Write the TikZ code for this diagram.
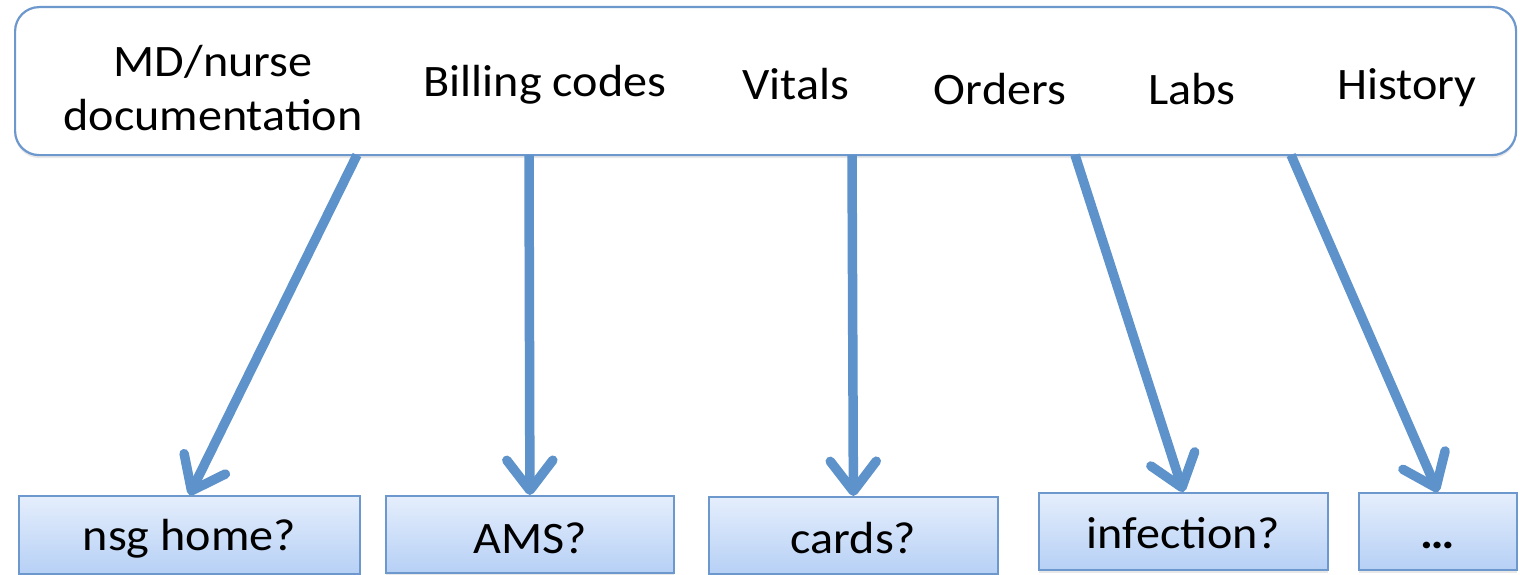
\documentclass[tikz,border=0pt]{standalone}
\usepackage{fontspec}
\setmainfont{Carlito}[FakeStretch=1.07]
\usetikzlibrary{arrows.meta,shadows}
\definecolor{arrowblue}{RGB}{94,146,202}
\definecolor{edgeblue}{RGB}{108,152,206}
\definecolor{boxtop}{RGB}{229,238,252}
\definecolor{boxbot}{RGB}{182,208,245}
\begin{document}
\begin{tikzpicture}[x=1pt,y=-1pt,
  topbox/.style={draw=edgeblue, line width=2.2pt, rounded corners=24pt, fill=white,
    drop shadow={shadow xshift=0pt, shadow yshift=-3pt, opacity=0.18}},
  leaf/.style={draw=edgeblue, line width=1.8pt, top color=boxtop, bottom color=boxbot,
    inner sep=0pt, anchor=north west,
    drop shadow={shadow xshift=0pt, shadow yshift=-3pt, opacity=0.18}},
  lbl/.style={font=\fontsize{45}{54}\selectfont, inner sep=0pt, anchor=base},
  arr/.style={draw=arrowblue, line width=9.5pt, line cap=butt,
    -{Straight Barb[round,length=30pt,width=46pt]}}]
\useasboundingbox (0,0) rectangle (1520,575);

% top container
\node[topbox, minimum width=1501pt, minimum height=148pt, anchor=north west] (top) at (14,6) {};
\node[lbl] (md1) at (213,77) {MD/nurse};
\node[lbl] (md2) at (213,131) {documentation};
\node[lbl] (bill) at (545,97) {Billing codes};
\node[lbl] (vit) at (796,100) {Vitals};
\node[lbl] (ord) at (1000,105) {Orders};
\node[lbl] (lab) at (1192,105) {Labs};
\node[lbl] (his) at (1407,100) {History};

% bottom boxes
\node[leaf, minimum width=341pt, minimum height=78pt] (b1) at (18,495) {};
\node[leaf, minimum width=288pt, minimum height=77pt] (b2) at (385,495) {};
\node[leaf, minimum width=289pt, minimum height=77pt] (b3) at (708,496) {};
\node[leaf, minimum width=289pt, minimum height=77pt] (b4) at (1038,492) {};
\node[leaf, minimum width=158pt, minimum height=77pt] (b5) at (1358,492) {};
\node[lbl] (t1) at (b1.center |- 0,550) {nsg home?};
\node[lbl] (t2) at (b2.center |- 0,553) {AMS?};
\node[lbl] (t3) at (b3.center |- 0,553) {cards?};
\node[lbl] (t4) at (b4.center |- 0,548) {infection?};
\node[lbl] (t5) at (b5.center |- 0,548) {\textbf{…}};

% arrow origins on the lower edge of the container
\coordinate (s1) at (357,155);
\coordinate (s2) at (529,155);
\coordinate (s3) at (852,155);
\coordinate (s4) at (1075,155);
\coordinate (s5) at (1291,155);

\draw[arr] (s1) -- (b1.north);
\draw[arr] (s2) -- (b2.north);
\draw[arr] (s3) -- (b3.north);
\draw[arr] (s4) -- (b4.north);
\draw[arr] (s5) -- (b5.north);
\end{tikzpicture}
\end{document}
